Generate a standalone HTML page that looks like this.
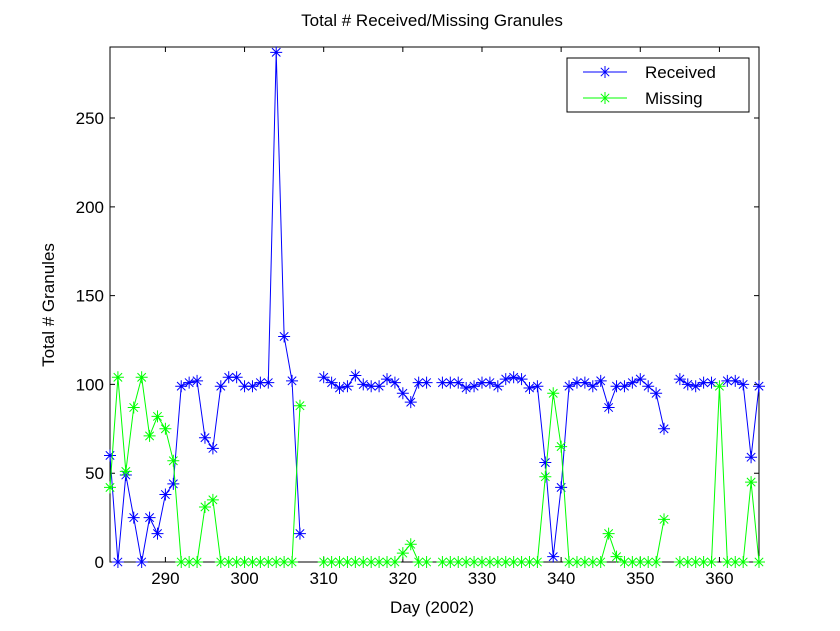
<!DOCTYPE html>
<html><head><meta charset="utf-8"><style>
body{margin:0;background:#fff;}
svg{display:block;font-family:"Liberation Sans",sans-serif;}
</style></head><body>
<svg id="chart" width="840" height="631" viewBox="0 0 840 631">
<rect x="0" y="0" width="840" height="631" fill="#fff"/>
<rect x="110" y="47" width="649" height="515" fill="#fff" stroke="#000" stroke-width="1"/>
<text x="432" y="26" font-size="17" text-anchor="middle">Total # Received/Missing Granules</text>
<text x="432" y="613" font-size="17" text-anchor="middle">Day (2002)</text>
<text transform="translate(54,305) rotate(-90)" font-size="17" text-anchor="middle">Total # Granules</text>
<g id="axes"></g>
<g id="series"></g>
<g>
<rect x="567" y="58" width="182" height="54" fill="#fff" stroke="#000" stroke-width="1"/>
<g>
<line x1="583" y1="72" x2="627" y2="72" stroke="#0000ff"/>
<path d="M599,72h12M605,66v12M600.8,67.8l8.4,8.4M609.2,67.8l-8.4,8.4" stroke="#0000ff"/>
<text x="645" y="78" font-size="17">Received</text>
</g>
<g>
<line x1="583" y1="98" x2="627" y2="98" stroke="#00ff00"/>
<path d="M599,98h12M605,92v12M600.8,93.8l8.4,8.4M609.2,93.8l-8.4,8.4" stroke="#00ff00"/>
<text x="645" y="104" font-size="17">Missing</text>
</g>
</g>
</svg>
<script>
const days = [];
for (let d = 283; d <= 365; d++) days.push(d);
const received = [60,0,49,25,0,25,16,38,44,99,101,102,70,64,99,104,104,99,99,101,101,287,127,102,16,null,null,
104,101,98,99,105,100,99,99,103,101,95,90,101,101,null,
101,101,101,98,99,101,101,99,103,104,103,98,99,56,3,42,99,101,101,99,102,87,99,99,101,103,99,95,75,null,
103,100,99,101,101,null,102,102,100,59,99];
const missing = [42,104,51,87,104,71,82,75,57,0,0,0,31,35,0,0,0,0,0,0,0,0,0,0,88,null,null,
0,0,0,0,0,0,0,0,0,0,5,10,0,0,null,
0,0,0,0,0,0,0,0,0,0,0,0,0,48,95,65,0,0,0,0,0,16,3,0,0,0,0,0,24,null,
0,0,0,0,0,99,0,0,0,45,0];
const xTicks = [290,300,310,320,330,340,350,360];
const yTicks = [0,50,100,150,200,250];

const X0=110,X1=759,Y0=562,Y1=47,XMIN=283,XMAX=365,YMIN=0,YMAX=290;
const sx = d => X0 + (d - XMIN) / (XMAX - XMIN) * (X1 - X0);
const sy = v => Y0 - (v - YMIN) / (YMAX - YMIN) * (Y0 - Y1);
const NS = 'http://www.w3.org/2000/svg';
const axes = document.getElementById('axes');
const series = document.getElementById('series');

xTicks.forEach(t => {
  const x = sx(t);
  const p = document.createElementNS(NS,'path');
  p.setAttribute('d', `M${x},${Y0}v-5M${x},${Y1}v5`);
  p.setAttribute('stroke','#000');
  
  
  axes.appendChild(p);
  const tx = document.createElementNS(NS,'text');
  tx.setAttribute('x', x); tx.setAttribute('y', Y0 + 22);
  tx.setAttribute('font-size','17'); tx.setAttribute('text-anchor','middle');
  tx.textContent = t;
  
  
  axes.appendChild(tx);
});
yTicks.forEach(t => {
  const y = sy(t);
  const p = document.createElementNS(NS,'path');
  p.setAttribute('d', `M${X0},${y}h5M${X1},${y}h-5`);
  p.setAttribute('stroke','#000');
  
  
  axes.appendChild(p);
  const tx = document.createElementNS(NS,'text');
  tx.setAttribute('x', X0 - 6); tx.setAttribute('y', y + 6);
  tx.setAttribute('font-size','17'); tx.setAttribute('text-anchor','end');
  tx.textContent = t;
  
  
  axes.appendChild(tx);
});

function drawSeries(vals, color, name) {
  const g = document.createElementNS(NS,'g');
  
  
  let d = '', pen = false;
  vals.forEach((v,i) => {
    if (v === null) { pen = false; return; }
    d += (pen ? 'L' : 'M') + sx(days[i]) + ',' + sy(v);
    pen = true;
  });
  const line = document.createElementNS(NS,'path');
  line.setAttribute('d', d);
  line.setAttribute('fill','none');
  line.setAttribute('stroke', color);
  
  
  g.appendChild(line);
  vals.forEach((v,i) => {
    if (v === null) return;
    const x = sx(days[i]), y = sy(v);
    const m = document.createElementNS(NS,'path');
    m.setAttribute('d', `M${x-6},${y}h12M${x},${y-6}v12M${x-4.2},${y-4.2}l8.4,8.4M${x+4.2},${y-4.2}l-8.4,8.4`);
    m.setAttribute('stroke', color);
    
    
    g.appendChild(m);
  });
  series.appendChild(g);
}
drawSeries(received, '#0000ff', 'received');
drawSeries(missing, '#00ff00', 'missing');
</script>
</body></html>
